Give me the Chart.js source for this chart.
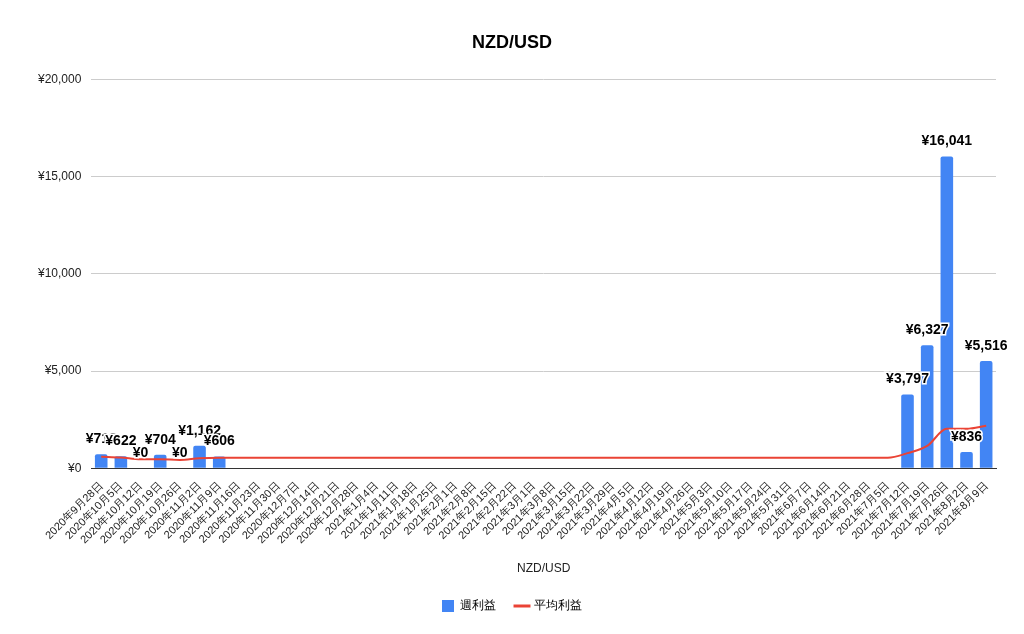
<!DOCTYPE html>
<html><head><meta charset="utf-8">
<script src="https://cdn.jsdelivr.net/npm/chart.js@4"></script>
<style>html,body{margin:0;background:#fff}#w{width:1024px;height:634px}</style>
</head><body><div id="w"><canvas id="c"></canvas></div>
<script>
const categories=["2020年9月28日","2020年10月5日","2020年10月12日","2020年10月19日","2020年10月26日","2020年11月2日","2020年11月9日","2020年11月16日","2020年11月23日","2020年11月30日","2020年12月7日","2020年12月14日","2020年12月21日","2020年12月28日","2021年1月4日","2021年1月11日","2021年1月18日","2021年1月25日","2021年2月1日","2021年2月8日","2021年2月15日","2021年2月22日","2021年3月1日","2021年3月8日","2021年3月15日","2021年3月22日","2021年3月29日","2021年4月5日","2021年4月12日","2021年4月19日","2021年4月26日","2021年5月3日","2021年5月10日","2021年5月17日","2021年5月24日","2021年5月31日","2021年6月7日","2021年6月14日","2021年6月21日","2021年6月28日","2021年7月5日","2021年7月12日","2021年7月19日","2021年7月26日","2021年8月2日","2021年8月9日"];
const weekly=[718,622,0,704,0,1162,606,null,null,null,null,null,null,null,null,null,null,null,null,null,null,null,null,null,null,null,null,null,null,null,null,null,null,null,null,null,null,null,null,null,null,3797,6327,16041,836,5516];
const average=[600,560,470,470,430,520,545,545,545,545,545,545,545,545,545,545,545,545,545,545,545,545,545,545,545,545,545,545,545,545,545,545,545,545,545,545,545,545,545,545,545,780,1150,2030,2030,2190];
const yTicks=[0,5000,10000,15000,20000];
const fmt=v=>'¥'+Math.round(v).toLocaleString('en-US');
const labelPlugin={id:'lbl',afterDatasetsDraw(ch){const ctx=ch.ctx;const m=ch.getDatasetMeta(0);ctx.save();ctx.font='bold 14px Arial, "Liberation Sans"';ctx.textAlign='center';ctx.textBaseline='bottom';
m.data.forEach((b,i)=>{const v=weekly[i];if(v===null)return;ctx.lineWidth=3;ctx.strokeStyle='#fff';ctx.strokeText(fmt(v),b.x,b.y-8);ctx.fillStyle='#000';ctx.fillText(fmt(v),b.x,b.y-8);});ctx.restore();}};
new Chart(document.getElementById('c'),{data:{labels:categories,datasets:[
{type:'bar',label:'週利益',data:weekly,backgroundColor:'#4285F4',borderRadius:2,categoryPercentage:0.8,barPercentage:0.8,order:2},
{type:'line',label:'平均利益',data:average,borderColor:'#EA4335',backgroundColor:'#EA4335',borderWidth:2,pointRadius:0,cubicInterpolationMode:'monotone',order:1}]},
options:{responsive:true,maintainAspectRatio:false,animation:false,
layout:{padding:{left:28,right:28,top:14,bottom:12}},
plugins:{title:{display:true,text:'NZD/USD',font:{size:18,weight:'bold',family:'Arial, "Liberation Sans"'},color:'#000',padding:{top:18,bottom:26}},
legend:{position:'bottom',labels:{usePointStyle:true,font:{size:12},color:'#222',padding:20,
generateLabels(ch){return ch.data.datasets.map((d,i)=>({text:d.label,fillStyle:d.backgroundColor,strokeStyle:d.borderColor||d.backgroundColor,lineWidth:i==1?3:0,datasetIndex:i,pointStyle:i==1?'line':'rect'}));}}},
tooltip:{enabled:false}},
scales:{x:{grid:{display:false},border:{color:'#333'},ticks:{maxRotation:45,minRotation:45,autoSkip:false,font:{size:11},color:'#222'},title:{display:true,text:'NZD/USD',font:{size:12},color:'#222',padding:{top:12}}},
y:{min:0,max:20000,afterBuildTicks(s){s.ticks=yTicks.map(v=>({value:v}));},ticks:{callback:v=>fmt(v),font:{size:12},color:'#222',padding:10},grid:{color:'#ccc',drawTicks:false},border:{display:false}}}},
plugins:[labelPlugin]});
</script></body></html>
